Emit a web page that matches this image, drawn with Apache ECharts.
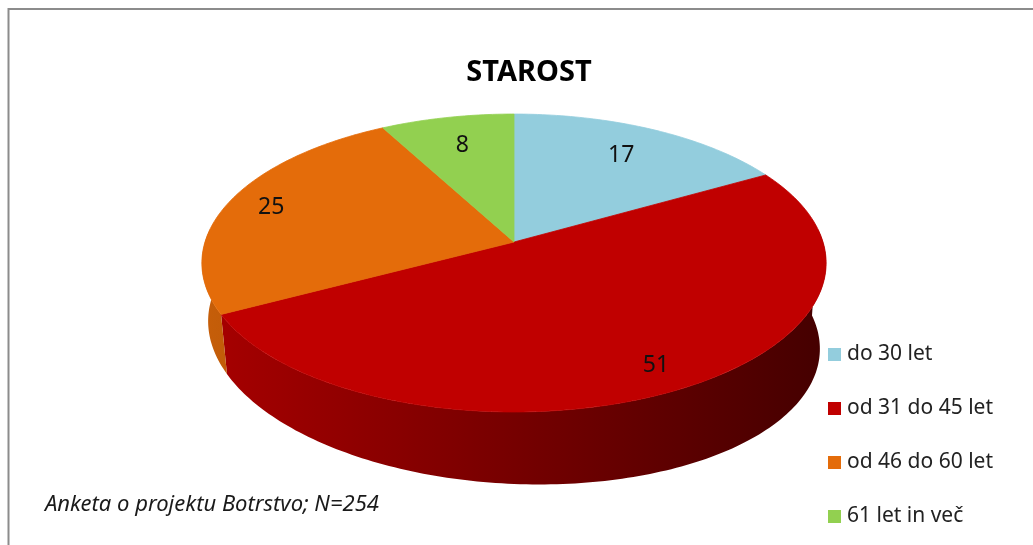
<!DOCTYPE html>
<html>
<head>
<meta charset="utf-8">
<title>STAROST</title>
<script src="https://cdn.jsdelivr.net/npm/echarts@6/dist/echarts.min.js"></script>
<style>
html,body{margin:0;padding:0;background:#fff;}
#chart{width:1033px;height:545px;}
</style>
</head>
<body>
<div id="chart"></div>
<script>
var categories=['do 30 let','od 31 do 45 let','od 46 do 60 let','61 let in več'];
var values=[17,51,25,8];
var colors=['#93CDDD','#C00000','#E46C0A','#92D050'];

// label distance from centre, as part of the radius
var labelRadius=[0.75,0.86,0.85,0.75];

// 3d pie look: centre, radius, tilt and perspective
var cx=514, cy=242, R=309, RY=146, K=0.141;
var DEPTH=72, DEPTH_SKEW=14, NARROW=0.02;   // side wall

var total=0;
for(var i=0;i<values.length;i++){ total+=values[i]; }
var startAngles=[];
var acc=0;
for(var i=0;i<values.length;i++){
    startAngles.push(acc/total*360);
    acc+=values[i];
}

function topPt(deg,r){
    var t=deg*Math.PI/180;
    var X=r*Math.sin(t), Z=r*Math.cos(t);
    var s=1/(1+K*Z);
    return [cx+R*X*s, cy-RY*Z*s];
}
function botPt(deg){
    var p=topPt(deg,1);
    var d=DEPTH+DEPTH_SKEW*Math.sin(deg*Math.PI/180);
    return [p[0]+(cx-p[0])*NARROW, p[1]+d];
}
function shade(hex,f){
    var n=parseInt(hex.slice(1),16);
    var r=Math.round(((n>>16)&255)*f), g=Math.round(((n>>8)&255)*f), b=Math.round((n&255)*f);
    return 'rgb('+r+','+g+','+b+')';
}

function renderSlice(idx){
    return function(params,api){
        var a1=startAngles[idx];
        var a2=a1+api.value(0)/total*360;
        var color=api.visual('color');
        var children=[];
        var a;

        //top face
        var pts=[[cx,cy]];
        for(a=a1;a<a2;a+=1){ pts.push(topPt(a,1)); }
        pts.push(topPt(a2,1));
        children.push({type:'polygon',z2:10,shape:{points:pts},
            style:{fill:color,stroke:color,lineWidth:0.8}});

        //front wall
        var w1=Math.max(a1,85), w2=Math.min(a2,275);
        if(w2>w1){
            var tp=[],bp=[];
            for(a=w1;a<w2;a+=1){ tp.push(topPt(a,1)); bp.push(botPt(a)); }
            tp.push(topPt(w2,1)); bp.push(botPt(w2));
            var wp=tp.concat(bp.reverse());
            children.push({type:'polygon',z2:0,shape:{points:wp},
                style:{fill:{type:'linear',x:cx-R,y:0,x2:cx+R,y2:0,global:true,
                    colorStops:[{offset:0,color:shade(color,0.87)},{offset:1,color:shade(color,0.36)}]}}});
        }

        //value label
        var lp=topPt((a1+a2)/2,labelRadius[idx]);
        children.push({type:'text',z2:20,x:lp[0],y:lp[1],
            style:{text:String(api.value(0)),align:'center',verticalAlign:'middle',
                font:'23px "Noto Sans"',fill:'#111'}});
        return {type:'group',children:children};
    };
}

var myChart=echarts.init(document.getElementById('chart'));
var series=[];
for(var i=0;i<categories.length;i++){
    series.push({
        type:'custom',
        name:categories[i],
        coordinateSystem:'none',
        silent:true,
        renderItem:renderSlice(i),
        data:[values[i]]
    });
}

myChart.setOption({
    backgroundColor:'#fff',
    animation:false,
    color:colors,
    legend:{
        data:categories,
        orient:'vertical',
        left:828,
        top:344,
        padding:0,
        icon:'rect',
        itemWidth:13,
        itemHeight:13,
        itemGap:33,
        selectedMode:false,
        textStyle:{fontFamily:'Noto Sans',fontSize:21,lineHeight:21,color:'#222',padding:[0,0,0,1]}
    },
    graphic:[
        {type:'rect',shape:{x:8.5,y:9,width:1100,height:600},
            style:{fill:'none',stroke:'#8c8c8c',lineWidth:2}},
        {type:'text',x:529,y:73,
            style:{text:'STAROST',align:'center',verticalAlign:'middle',
                font:'bold 29px "Noto Sans"',fill:'#000'}},
        {type:'text',x:45,y:505,
            style:{text:'Anketa o projektu Botrstvo; N=254',align:'left',verticalAlign:'middle',
                font:'italic 22px "Noto Sans"',fill:'#1a1a1a'}}
    ],
    series:series
});
</script>
</body>
</html>
